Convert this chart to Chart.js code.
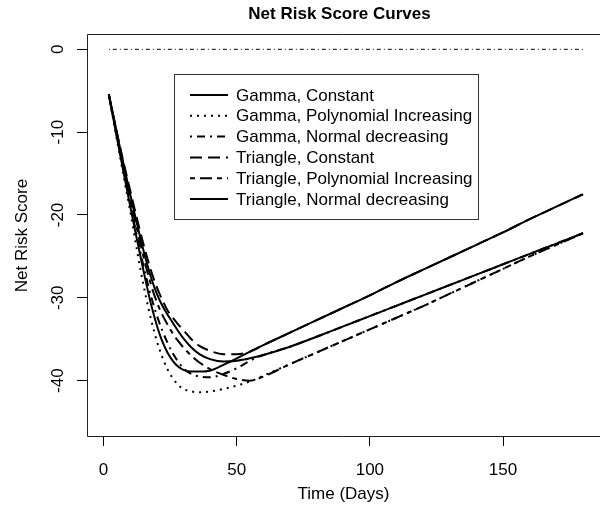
<!DOCTYPE html>
<html>
<head>
<meta charset="utf-8">
<script src="https://cdn.jsdelivr.net/npm/chart.js@4.4.1/dist/chart.umd.min.js"></script>
<style>
  html, body { margin: 0; padding: 0; background: #fff; }
  #wrap { width: 600px; height: 510px; }
</style>
</head>
<body>
<div id="wrap"><canvas id="chart" width="600" height="510"></canvas></div>
<script>
// days on the x axis
const days = [2, 4, 6, 8, 10, 12, 14, 16, 18, 20, 22, 24, 26, 28, 30, 33, 36, 40, 45, 50, 55, 60, 70, 80, 90, 100, 110, 120, 130, 140, 150, 160, 170, 180];

const gammaConstant = [-5.5, -8.9, -12.3, -15.6, -18.9, -22.1, -25.2, -28.2, -31.0, -33.3, -35.2, -36.6, -37.6, -38.3, -38.7, -38.9, -38.9, -38.8, -38.1, -37.3, -36.5, -35.7, -34.2, -32.7, -31.2, -29.7, -28.1, -26.6, -25.1, -23.6, -22.1, -20.5, -19.0, -17.5];
const gammaPoly = [-5.6, -9.1, -12.6, -16.1, -19.5, -23.2, -26.8, -30.0, -32.8, -35.2, -37.1, -38.6, -39.7, -40.5, -41.0, -41.3, -41.4, -41.3, -41.0, -40.6, -40.1, -39.4, -38.0, -36.6, -35.2, -33.8, -32.4, -31.0, -29.5, -28.0, -26.5, -25.0, -23.6, -22.2];
const gammaNormal = [-5.5, -8.8, -12.0, -15.3, -18.5, -21.7, -24.7, -27.5, -30.0, -32.1, -33.9, -35.4, -36.7, -37.7, -38.5, -39.2, -39.5, -39.6, -39.2, -38.5, -37.6, -36.9, -35.9, -34.7, -33.45, -32.2, -30.95, -29.7, -28.45, -27.2, -25.95, -24.7, -23.45, -22.2];
const triConstant = [-5.4, -8.5, -11.5, -14.3, -17.0, -19.7, -22.3, -24.7, -26.9, -28.7, -30.2, -31.5, -32.4, -33.2, -33.9, -35.0, -35.8, -36.4, -36.8, -36.8, -36.5, -35.7, -34.2, -32.7, -31.2, -29.7, -28.1, -26.6, -25.1, -23.6, -22.1, -20.5, -19.0, -17.5];
const triPoly = [-5.5, -8.6, -11.7, -14.8, -17.9, -20.9, -23.7, -26.3, -28.6, -30.5, -32.0, -33.2, -34.3, -35.2, -36.0, -37.0, -37.8, -38.6, -39.3, -39.8, -40.0, -39.5, -38.0, -36.6, -35.2, -33.8, -32.4, -31.0, -29.5, -28.0, -26.5, -25.0, -23.6, -22.2];
const triNormal = [-5.5, -8.5, -11.6, -14.6, -17.5, -20.3, -23.0, -25.5, -27.7, -29.5, -30.9, -32.0, -33.0, -34.0, -34.9, -36.0, -36.8, -37.4, -37.7, -37.6, -37.3, -36.9, -35.9, -34.7, -33.45, -32.2, -30.95, -29.7, -28.45, -27.2, -25.95, -24.7, -23.45, -22.2];

// reference line at zero
const zeroDays = [2, 180];
const zeroLine = [0, 0];

const seriesNames = ['Gamma, Constant', 'Gamma, Polynomial Increasing', 'Gamma, Normal decreasing',
  'Triangle, Constant', 'Triangle, Polynomial Increasing', 'Triangle, Normal decreasing'];
const seriesValues = [gammaConstant, gammaPoly, gammaNormal, triConstant, triPoly, triNormal];
const seriesDash = [[], [2, 5], [2, 5, 8, 5], [12, 6], [5, 5, 12, 5], []];

const xTicks = [0, 50, 100, 150];
const yTicks = [0, -10, -20, -30, -40];

const FONT = '"Liberation Sans", Arial, sans-serif';

const datasets = seriesNames.map((name, i) => ({
  label: name,
  data: days.map((d, j) => ({ x: d, y: seriesValues[i][j] })),
  borderColor: '#000',
  borderWidth: 2,
  borderDash: seriesDash[i],
  pointRadius: 0,
  fill: false,
  cubicInterpolationMode: 'monotone'
}));
datasets.push({
  label: 'zero',
  data: zeroDays.map((d, j) => ({ x: d, y: zeroLine[j] })),
  borderColor: '#000',
  borderWidth: 1,
  borderDash: [1, 3, 4, 3],
  pointRadius: 0,
  fill: false
});

// title, box, rotated y labels and the R-style legend
const decor = {
  id: 'decor',
  afterDraw(chart) {
    const ctx = chart.ctx;
    const a = chart.chartArea;
    const ys = chart.scales.y;
    ctx.save();
    ctx.fillStyle = '#000';
    ctx.font = 'bold 17px ' + FONT;
    ctx.textAlign = 'center';
    ctx.textBaseline = 'middle';
    ctx.fillText('Net Risk Score Curves', (a.left + a.right) / 2 - 4, 14);

    ctx.strokeStyle = '#222';
    ctx.lineWidth = 1;
    ctx.beginPath();
    ctx.moveTo(a.right, a.top + 0.5);
    ctx.lineTo(a.left + 0.5, a.top + 0.5);
    ctx.lineTo(a.left + 0.5, a.bottom - 0.5);
    ctx.lineTo(a.right, a.bottom - 0.5);
    ctx.stroke();

    ctx.font = '17px ' + FONT;
    yTicks.forEach(v => {
      const py = ys.getPixelForValue(v);
      ctx.save();
      ctx.translate(58, py);
      ctx.rotate(-Math.PI / 2);
      ctx.fillText(String(v), 0, 0);
      ctx.restore();
    });

    // legend
    const lx = 174.5, ly = 74.5, lw = 304, lh = 145;
    ctx.strokeStyle = '#333';
    ctx.strokeRect(lx, ly, lw, lh);
    ctx.textAlign = 'left';
    seriesNames.forEach((name, i) => {
      const ry = 95 + i * 20.8;
      ctx.save();
      ctx.strokeStyle = '#000';
      ctx.lineWidth = 2;
      ctx.setLineDash(seriesDash[i]);
      ctx.beginPath();
      ctx.moveTo(190, ry);
      ctx.lineTo(228, ry);
      ctx.stroke();
      ctx.restore();
      ctx.fillText(name, 236, ry + 1);
    });
    ctx.restore();
  }
};

new Chart(document.getElementById('chart'), {
  type: 'line',
  data: { datasets },
  options: {
    responsive: false,
    animation: false,
    layout: { padding: { top: 34, left: 0, right: 0, bottom: 0 } },
    plugins: { legend: { display: false }, title: { display: false }, tooltip: { enabled: false } },
    scales: {
      x: {
        type: 'linear',
        min: -6.2,
        max: 186.4,
        afterBuildTicks: s => { s.ticks = xTicks.map(v => ({ value: v })); },
        afterFit: s => { s.height = 73; },
        border: { display: false },
        grid: { drawOnChartArea: false, drawTicks: true, tickLength: 9, color: '#000' },
        ticks: { color: '#000', font: { family: FONT, size: 17 }, padding: 14, maxRotation: 0 },
        title: { display: true, text: 'Time (Days)', color: '#000', font: { family: FONT, size: 17 }, padding: { top: 0, bottom: 5 } }
      },
      y: {
        type: 'linear',
        min: -46.8,
        max: 1.85,
        afterBuildTicks: s => { s.ticks = yTicks.map(v => ({ value: v })); },
        afterFit: s => { s.width = 87; },
        border: { display: false },
        grid: { drawOnChartArea: false, drawTicks: true, tickLength: 10, color: '#000' },
        ticks: { display: false },
        title: { display: true, text: 'Net Risk Score', color: '#000', font: { family: FONT, size: 17 }, padding: { top: 12, bottom: 0 } }
      }
    }
  },
  plugins: [decor]
});
</script>
</body>
</html>
